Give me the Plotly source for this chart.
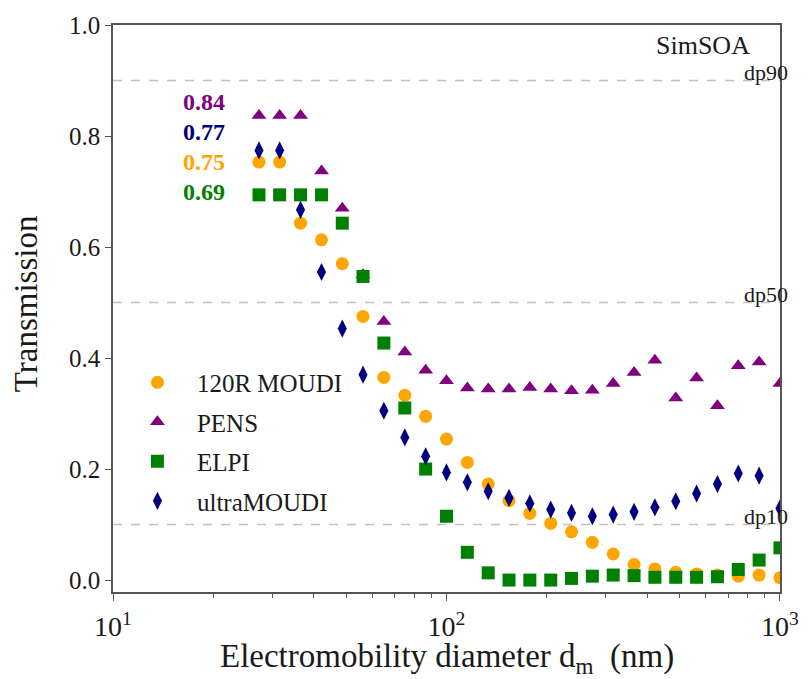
import plotly.graph_objects as go

# ---- data ----
diameters = [27.4, 31.6, 36.5, 42.2, 48.7, 56.2, 64.9, 75.0, 86.6, 100.0,
             115.5, 133.4, 154.0, 177.8, 205.4, 237.1, 273.8, 316.2, 365.2,
             421.7, 487.0, 562.3, 649.4, 749.9, 866.0, 1000.0]

moudi_120r = [0.753, 0.753, 0.643, 0.613, 0.570, 0.475, 0.365, 0.333, 0.295, 0.254,
              0.212, 0.173, 0.143, 0.120, 0.102, 0.087, 0.068, 0.047, 0.028,
              0.020, 0.014, 0.011, 0.009, 0.007, 0.009, 0.004]
pens = [0.837, 0.837, 0.837, 0.737, 0.670, 0.550, 0.466, 0.411, 0.378, 0.359,
        0.346, 0.344, 0.344, 0.347, 0.344, 0.341, 0.342, 0.354, 0.374,
        0.396, 0.328, 0.364, 0.314, 0.386, 0.393, 0.354]
elpi = [0.694, 0.694, 0.694, 0.694, 0.643, 0.547, 0.427, 0.310, 0.200, 0.115,
        0.050, 0.013, 0.000, 0.000, 0.000, 0.003, 0.007, 0.009, 0.008,
        0.005, 0.005, 0.005, 0.006, 0.019, 0.036, 0.058]
ultra_moudi = [0.774, 0.774, 0.667, 0.555, 0.453, 0.370, 0.305, 0.257, 0.223, 0.194,
               0.176, 0.160, 0.148, 0.138, 0.127, 0.121, 0.115, 0.118, 0.123,
               0.131, 0.142, 0.156, 0.173, 0.192, 0.188, 0.129]

series_names = ["120R MOUDI", "PENS", "ELPI", "ultraMOUDI"]
series_colors = ["#FFA500", "#800080", "#008000", "#000080"]
series_symbols = ["circle", "triangle-up", "square", "diamond-tall"]
series_sizes = [13, 13, 13, 13]

# efficiency labels (text, colour) shown in upper-left
eff_labels = ["0.84", "0.77", "0.75", "0.69"]
eff_colors = ["#800080", "#000080", "#FFA500", "#008000"]
eff_y = [0.861, 0.807, 0.753, 0.699]

thresholds = [0.9, 0.5, 0.1]
threshold_labels = ["dp90", "dp50", "dp10"]

x_tickvals = [10, 100, 1000]
x_ticktext = ["10<sup>1</sup>", "10<sup>2</sup>", "10<sup>3</sup>"]
x_minor = [20, 30, 40, 50, 60, 70, 80, 90, 200, 300, 400, 500, 600, 700, 800, 900]
y_tickvals = [0.0, 0.2, 0.4, 0.6, 0.8, 1.0]

FONT = "'Liberation Serif', 'Times New Roman', serif"
AXC = "#555555"
TXT = "#1a1a1a"

fig = go.Figure()
for i, (name, vals) in enumerate(zip(series_names, [moudi_120r, pens, elpi, ultra_moudi])):
    fig.add_trace(go.Scatter(
        x=diameters, y=vals, mode="markers", name=name, legendgroup=name,
        marker=dict(symbol=series_symbols[i], color=series_colors[i],
                    size=series_sizes[i], line=dict(width=0)),
    ))

shapes = []
annotations = []
for t, lab in zip(thresholds, threshold_labels):
    shapes.append(dict(type="line", xref="paper", x0=0, x1=1, yref="y", y0=t, y1=t,
                       line=dict(color="#c0c0c0", width=1.5, dash="dash"), layer="below"))
    annotations.append(dict(text=lab, xref="paper", x=1.0, xanchor="right", xshift=10,
                            yref="y", y=t, yanchor="middle", yshift=8, showarrow=False,
                            font=dict(family=FONT, size=22, color=TXT)))

for lab, col, yy in zip(eff_labels, eff_colors, eff_y):
    annotations.append(dict(text="<b>%s</b>" % lab, xref="paper", x=0.136, xanchor="center",
                            yref="y", y=yy, yanchor="middle", showarrow=False,
                            font=dict(family=FONT, size=24, color=col)))

annotations.append(dict(text="SimSOA", xref="paper", x=0.885, xanchor="center",
                        yref="paper", y=0.964, yanchor="middle", showarrow=False,
                        font=dict(family=FONT, size=26, color=TXT)))

annotations.append(dict(text="Transmission", xref="paper", x=-0.130, xanchor="center",
                        yref="paper", y=0.508, yanchor="middle", textangle=-90,
                        showarrow=False, font=dict(family=FONT, size=33, color=TXT)))
annotations.append(dict(text="Electromobility diameter d<sub>m</sub>\u00a0 (nm)",
                        xref="paper", x=0.5, xanchor="center",
                        yref="paper", y=-0.118, yanchor="middle",
                        showarrow=False, font=dict(family=FONT, size=33, color=TXT)))

fig.update_layout(
    width=811, height=679,
    margin=dict(l=113, r=21, t=22, b=87),
    paper_bgcolor="white", plot_bgcolor="white",
    font=dict(family=FONT, color=TXT),
    shapes=shapes, annotations=annotations,
    showlegend=True,
    legend=dict(x=0.0074, y=0.41, xanchor="left", yanchor="top",
                font=dict(family=FONT, size=25, color=TXT),
                bgcolor="rgba(0,0,0,0)", tracegroupgap=4, itemwidth=69),
)
fig.update_xaxes(
    type="log", range=[1, 3.0001], tickvals=x_tickvals, ticktext=x_ticktext,
    ticks="outside", ticklen=7, tickwidth=1.2, tickcolor=AXC, ticklabelstandoff=2,
    showline=True, linecolor=AXC, linewidth=1.5, mirror=True,
    showgrid=False, zeroline=False,
    tickfont=dict(family=FONT, size=28, color=TXT),
    minor=dict(tickvals=x_minor, ticks="outside", ticklen=4, tickcolor=AXC, tickwidth=1, showgrid=False),
)
fig.update_yaxes(
    range=[-0.0215, 1.0], tickvals=y_tickvals, tickformat=".1f",
    ticks="outside", ticklen=6, tickwidth=1.2, tickcolor=AXC,
    showline=True, linecolor=AXC, linewidth=1.5, mirror=True,
    showgrid=False, zeroline=False,
    tickfont=dict(family=FONT, size=25, color=TXT),
)

fig.write_html("out.html")
